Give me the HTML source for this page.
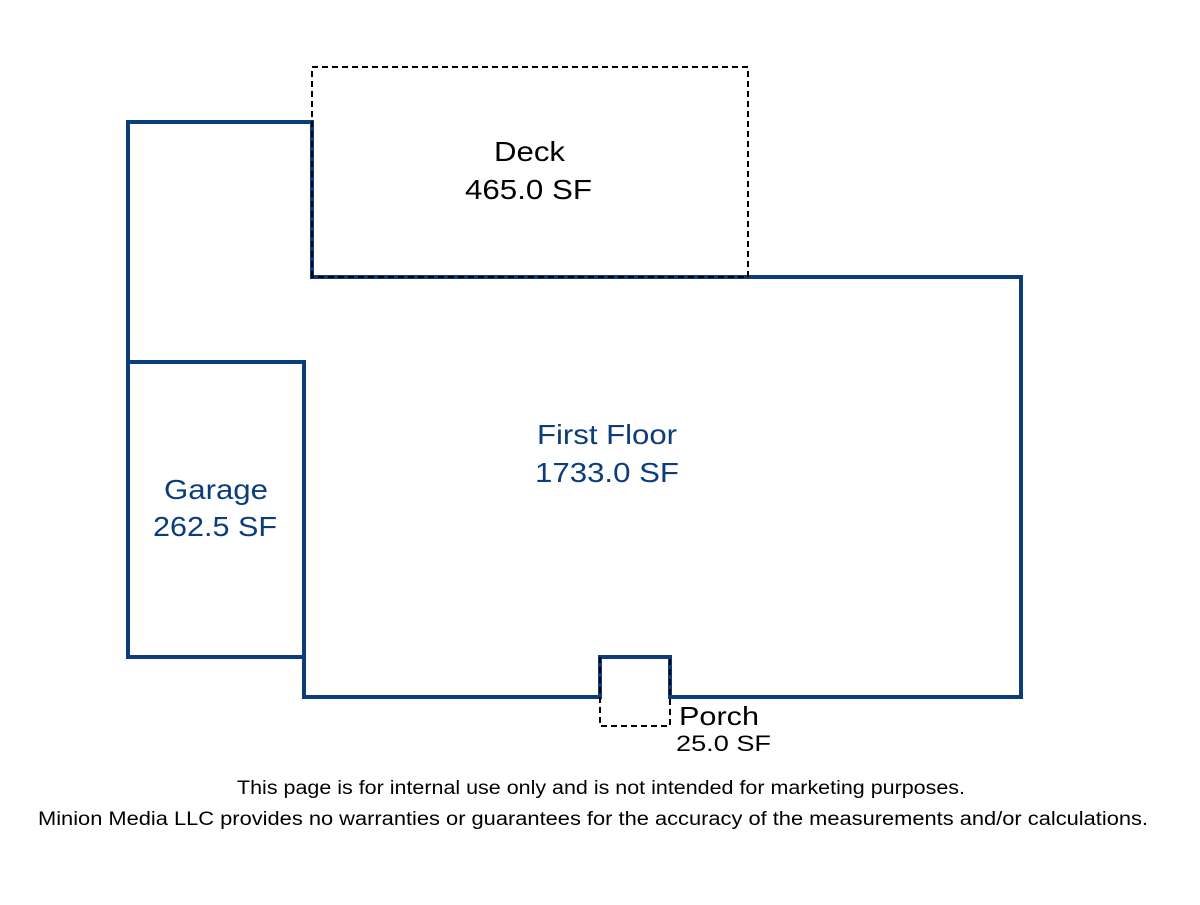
<!DOCTYPE html>
<html><head><style>body{margin:0;background:#fff}</style></head><body>
<svg width="1200" height="900" xmlns="http://www.w3.org/2000/svg" font-family="Liberation Sans, sans-serif">
<rect width="1200" height="900" fill="#fff"/>
<g fill="none" stroke="#0b3d7d" stroke-width="4" stroke-linejoin="miter">
<path d="M128,122 H312 V277 H1021 V697 H670 V657 H600 V697 H304 V657 H128 Z"/>
<path d="M128,362 H304 V657"/>
</g>
<g fill="none" stroke="#000" stroke-width="2" stroke-dasharray="6,4">
<path d="M312,277 V67 H748 V277 Z"/>
<path d="M600,657 V726 H670 V657"/>
</g>
<text x="494" y="161" font-size="28" textLength="71" lengthAdjust="spacingAndGlyphs" fill="#000">Deck</text>
<text x="465" y="199" font-size="28" textLength="127" lengthAdjust="spacingAndGlyphs" fill="#000">465.0 SF</text>
<text x="537" y="444" font-size="28" textLength="140" lengthAdjust="spacingAndGlyphs" fill="#0b3d7d">First Floor</text>
<text x="535" y="482" font-size="28" textLength="144" lengthAdjust="spacingAndGlyphs" fill="#0b3d7d">1733.0 SF</text>
<text x="164" y="499" font-size="28" textLength="104" lengthAdjust="spacingAndGlyphs" fill="#0b3d7d">Garage</text>
<text x="153" y="536" font-size="28" textLength="124" lengthAdjust="spacingAndGlyphs" fill="#0b3d7d">262.5 SF</text>
<text x="679" y="725" font-size="26" textLength="80" lengthAdjust="spacingAndGlyphs" fill="#000">Porch</text>
<text x="676" y="751" font-size="22" textLength="95" lengthAdjust="spacingAndGlyphs" fill="#000">25.0 SF</text>
<text x="237" y="794" font-size="19" textLength="728" lengthAdjust="spacingAndGlyphs" fill="#000">This page is for internal use only and is not intended for marketing purposes.</text>
<text x="38" y="825" font-size="19" textLength="1110" lengthAdjust="spacingAndGlyphs" fill="#000">Minion Media LLC provides no warranties or guarantees for the accuracy of the measurements and/or calculations.</text>
</svg>
</body></html>
